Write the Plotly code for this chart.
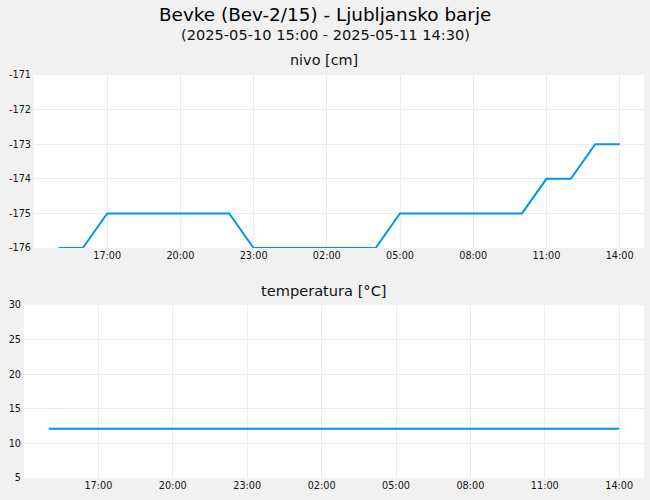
import plotly.graph_objects as go

# hourly readings, 2025-05-10 15:00 .. 2025-05-11 14:00
times = [
    "2025-05-10 15:00", "2025-05-10 16:00", "2025-05-10 17:00", "2025-05-10 18:00",
    "2025-05-10 19:00", "2025-05-10 20:00", "2025-05-10 21:00", "2025-05-10 22:00",
    "2025-05-10 23:00", "2025-05-11 00:00", "2025-05-11 01:00", "2025-05-11 02:00",
    "2025-05-11 03:00", "2025-05-11 04:00", "2025-05-11 05:00", "2025-05-11 06:00",
    "2025-05-11 07:00", "2025-05-11 08:00", "2025-05-11 09:00", "2025-05-11 10:00",
    "2025-05-11 11:00", "2025-05-11 12:00", "2025-05-11 13:00", "2025-05-11 14:00",
]
nivo = [
    -176, -176, -175, -175, -175, -175, -175, -175,
    -176, -176, -176, -176, -176, -176, -175, -175,
    -175, -175, -175, -175, -174, -174, -173, -173,
]
temperatura = [12.1] * len(times)

x_range = ["2025-05-10 14:00", "2025-05-11 15:00"]
x_ticks = ["2025-05-10 17:00", "2025-05-10 20:00", "2025-05-10 23:00", "2025-05-11 02:00",
           "2025-05-11 05:00", "2025-05-11 08:00", "2025-05-11 11:00", "2025-05-11 14:00"]
nivo_ticks = [-176, -175, -174, -173, -172, -171]
nivo_labels = ["-176", "-175", "-174", "-173", "-172", "-171"]  # plain hyphen, not U+2212

W, H = 650, 500
LINE = "#0096ee"
GRID = "#ececec"
FONT = "DejaVu Sans"

fig = go.Figure()
fig.add_trace(go.Scatter(x=times, y=nivo, mode="lines", line=dict(color=LINE, width=2),
                         xaxis="x", yaxis="y", showlegend=False))
fig.add_trace(go.Scatter(x=times, y=temperatura, mode="lines", line=dict(color=LINE, width=2),
                         xaxis="x2", yaxis="y2", showlegend=False))

xcommon = dict(type="date", range=x_range, tickvals=x_ticks, tickformat="%H:%M",
               showgrid=True, gridcolor=GRID, zeroline=False, showline=False,
               ticks="", tickfont=dict(size=9.7, color="#111"), automargin=False)
ycommon = dict(showgrid=True, gridcolor=GRID, zeroline=False, showline=False, ticks="",
               tickfont=dict(size=9.7, color="#111"), automargin=False, ticklabelstandoff=2)


def label(text, x, y, size, color="#111"):
    return dict(text=text, x=x, y=y, xref="paper", yref="paper", xanchor="center",
                yanchor="middle", showarrow=False, font=dict(size=size, color=color))


fig.update_layout(
    width=W, height=H,
    margin=dict(l=0, r=0, t=0, b=0),
    paper_bgcolor="#f1f1f1", plot_bgcolor="#ffffff",
    font=dict(family=FONT, color="#111"),
    xaxis=dict(xcommon, domain=[34 / W, 644 / W], anchor="y"),
    yaxis=dict(ycommon, domain=[1 - 248 / H, 1 - 75 / H], range=[-176, -171],
               tickvals=nivo_ticks, ticktext=nivo_labels, anchor="x"),
    xaxis2=dict(xcommon, domain=[24 / W, 644 / W], anchor="y2"),
    yaxis2=dict(ycommon, domain=[1 - 478 / H, 1 - 305 / H], range=[5, 30], dtick=5, anchor="x2"),
    annotations=[
        label("Bevke (Bev-2/15) - Ljubljansko barje", 0.5, 1 - 14 / H, 18.4, "#000"),
        label("(2025-05-10 15:00 - 2025-05-11 14:30)", 0.5, 1 - 34 / H, 14.6),
        label("nivo [cm]", 324 / W, 1 - 60 / H, 14.4),
        label("temperatura [°C]", 324 / W, 1 - 290 / H, 14.6),
    ],
)

fig.write_html("out.html", config={"displayModeBar": False},
               post_script="document.body.style.margin='0';")
